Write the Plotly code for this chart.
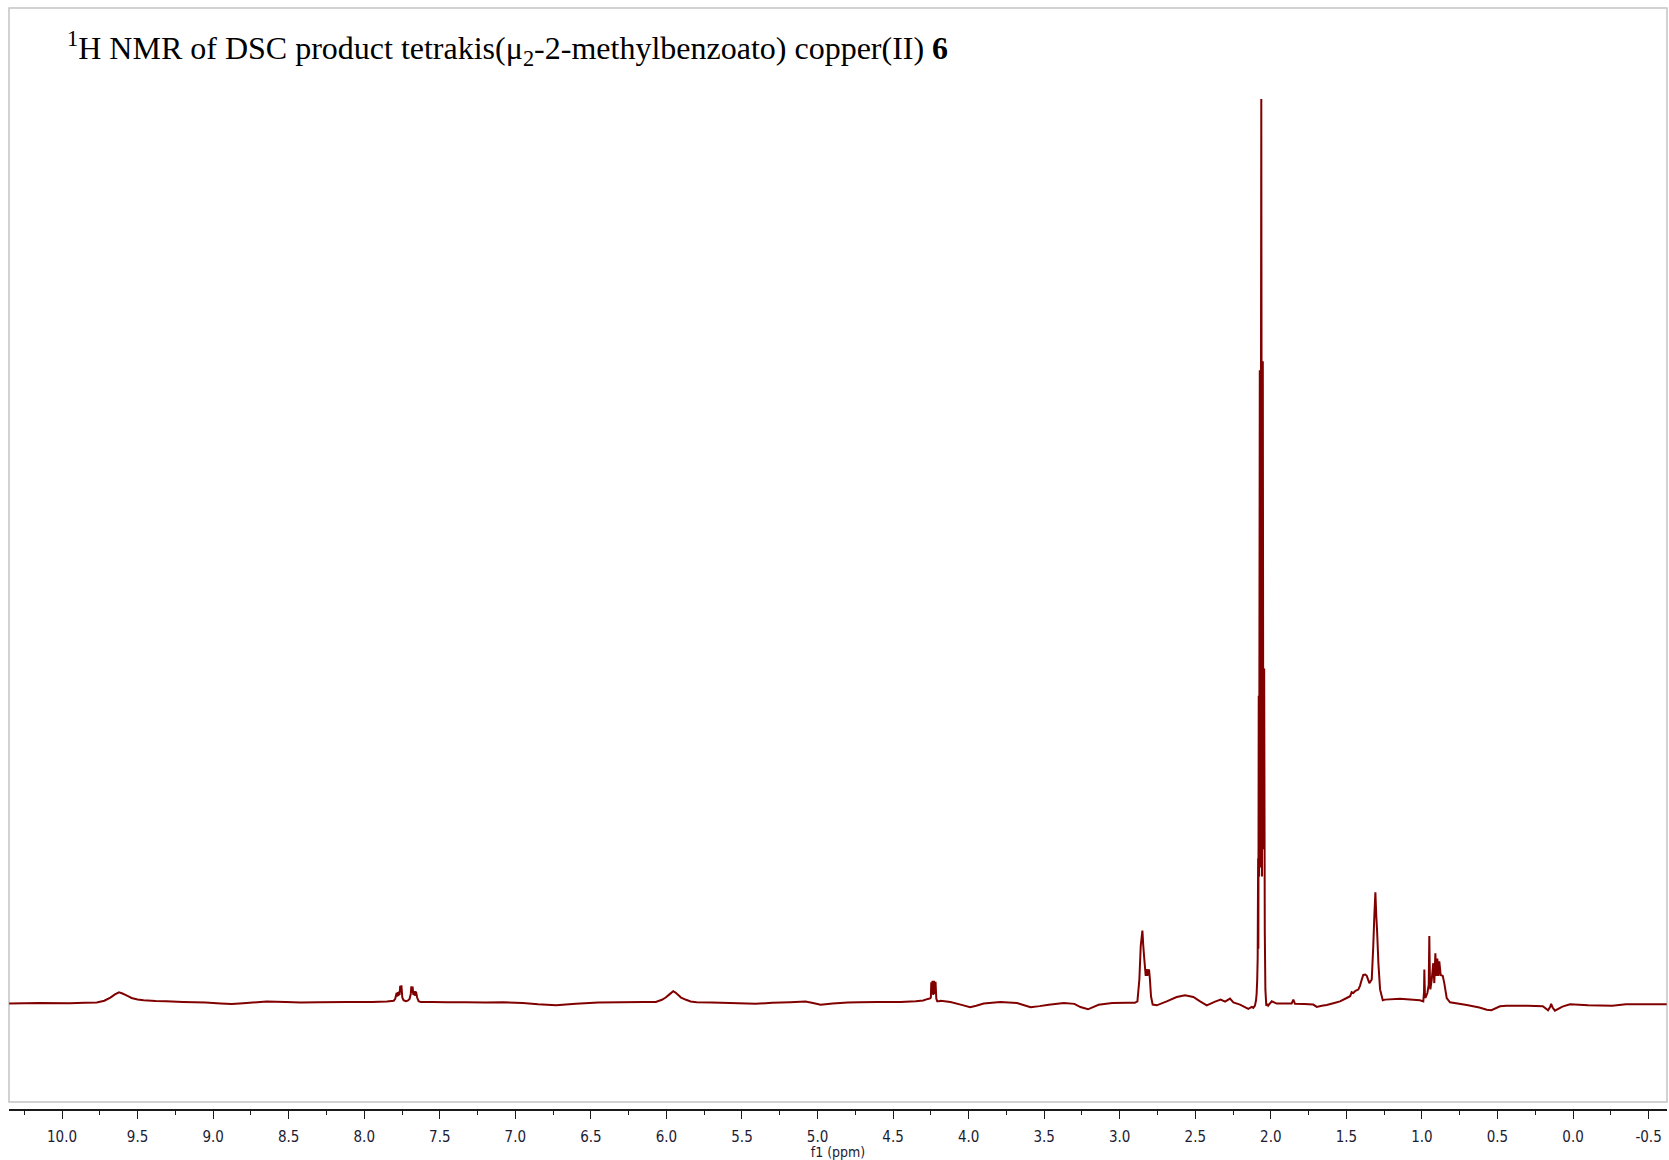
import plotly.graph_objects as go

# ---- spectrum trace (ppm, relative intensity) ----
ppm_a = [10.35, 10.15, 9.95, 9.85, 9.77, 9.72, 9.68, 9.65, 9.623, 9.60, 9.584, 9.56, 9.54, 9.50, 9.46,
         9.38, 9.31, 9.20, 9.05, 8.95, 8.877, 8.80, 8.645, 8.52, 8.42, 8.30, 8.116, 7.95, 7.85]
int_a = [-0.05, 0.0, -0.03, 0.02, 0.05, 0.25, 0.6, 0.95, 1.18, 1.05, 0.92, 0.72, 0.55, 0.38, 0.3,
         0.22, 0.18, 0.12, 0.05, -0.05, -0.12, -0.02, 0.15, 0.1, 0.05, 0.08, 0.1, 0.12, 0.15]

ppm_b = [7.805, 7.795, 7.786, 7.782, 7.778, 7.774, 7.770, 7.766, 7.762, 7.758, 7.754, 7.748, 7.740,
         7.725, 7.712, 7.700, 7.692, 7.688, 7.684, 7.680, 7.675, 7.670, 7.666, 7.662, 7.656, 7.650,
         7.640, 7.625]
int_b = [0.25, 0.45, 1.1, 0.7, 1.2, 0.8, 1.25, 0.9, 1.9, 1.2, 1.95, 0.6, 0.3,
         0.2, 0.25, 0.45, 1.0, 1.85, 1.1, 1.8, 0.9, 1.3, 0.8, 1.25, 1.15, 0.6,
         0.2, 0.1]

ppm_c = [7.55, 7.45, 7.33, 7.20, 7.08, 6.95, 6.85, 6.73, 6.60, 6.45, 6.30, 6.15, 6.07,
         6.03, 6.005, 5.98, 5.955, 5.94, 5.92, 5.903, 5.87, 5.84, 5.80, 5.70, 5.58, 5.41,
         5.30, 5.18, 5.08, 5.03, 4.98, 4.90, 4.80, 4.725, 4.60, 4.45, 4.35, 4.30, 4.27]
int_c = [0.1, 0.08, 0.08, 0.06, 0.08, 0.0, -0.15, -0.25, -0.1, 0.05, 0.08, 0.12, 0.1,
         0.35, 0.6, 0.95, 1.3, 1.15, 0.85, 0.6, 0.35, 0.17, 0.08, 0.05, 0.0, -0.1,
         0.02, 0.08, 0.15, 0.0, -0.2, -0.05, 0.05, 0.08, 0.1, 0.12, 0.2, 0.28, 0.45]

ppm_d = [4.255, 4.250, 4.247, 4.243, 4.239, 4.234, 4.229, 4.224, 4.219, 4.214, 4.208, 4.195, 4.185,
         4.12, 4.04, 3.99, 3.95, 3.90, 3.79, 3.68, 3.59, 3.53, 3.47, 3.37, 3.30, 3.26, 3.21,
         3.14, 3.05, 2.95, 2.90]
int_d = [0.5, 0.6, 2.3, 1.0, 2.45, 0.9, 2.45, 1.0, 2.35, 0.5, 0.2, 0.2, 0.24,
         0.1, -0.24, -0.47, -0.3, -0.05, 0.12, 0.0, -0.47, -0.35, -0.2, 0.0, -0.1, -0.45, -0.7,
         -0.2, 0.0, 0.02, 0.02]

ppm_e = [2.883, 2.870, 2.861, 2.850, 2.844, 2.837, 2.828, 2.821, 2.817, 2.813, 2.806, 2.800, 2.793,
         2.782, 2.755, 2.689, 2.623, 2.568, 2.513, 2.468, 2.424, 2.369, 2.332, 2.303, 2.27, 2.248,
         2.204, 2.149, 2.126, 2.116]
int_e = [0.18, 2.6, 6.3, 8.0, 6.3, 4.8, 3.0, 3.76, 3.0, 3.5, 3.7, 2.6, 0.74,
         -0.18, -0.26, 0.18, 0.66, 0.85, 0.66, 0.18, -0.26, 0.15, 0.37, 0.15, 0.48, 0.07,
         -0.18, -0.66, -0.44, -0.55]

ppm_f = [2.105, 2.098, 2.094, 2.090, 2.087, 2.084, 2.0825, 2.080, 2.0775, 2.073, 2.069, 2.063,
         2.0585, 2.053, 2.0495, 2.044, 2.040, 2.036, 2.030, 2.022]
int_f = [-0.3, 0.3, 1.0, 2.6, 5.0, 16.0, 6.0, 34.0, 14.0, 70.0, 15.0, 100.0,
         14.0, 71.0, 17.0, 37.0, 8.0, 1.5, -0.3, -0.1]

ppm_g = [2.017, 1.994, 1.961, 1.90, 1.862, 1.851, 1.840, 1.78, 1.719, 1.696, 1.663, 1.63, 1.58,
         1.542, 1.498, 1.475, 1.465, 1.454, 1.44, 1.421, 1.41, 1.398, 1.388, 1.375, 1.365, 1.348,
         1.332, 1.322, 1.315, 1.308, 1.302, 1.297, 1.288, 1.277, 1.259, 1.244, 1.145, 1.013, 0.991]
int_g = [-0.3, 0.18, -0.07, -0.05, -0.05, 0.37, -0.1, -0.12, -0.18, -0.44, -0.3, -0.22, 0.0,
         0.18, 0.55, 0.75, 1.2, 1.1, 1.35, 1.48, 1.9, 2.6, 3.1, 3.15, 3.0, 2.2,
         2.6, 6.3, 9.6, 12.25, 9.6, 8.1, 4.4, 1.5, 0.3, 0.37, 0.48, 0.3, 0.18]

ppm_h = [0.986, 0.984, 0.980, 0.977, 0.964, 0.955, 0.951, 0.947, 0.944, 0.935, 0.925, 0.918, 0.911,
         0.905, 0.898, 0.891, 0.885, 0.876, 0.862, 0.852, 0.836, 0.814, 0.703, 0.62, 0.571, 0.54,
         0.483, 0.44, 0.30, 0.20, 0.165, 0.150, 0.145, 0.135, 0.12, 0.07, 0.02, -0.10, -0.26,
         -0.35, -0.50, -0.62]
int_h = [1.2, 3.7, 0.8, 0.55, 1.1, 2.0, 7.4, 2.5, 1.5, 2.6, 4.4, 2.2, 5.5,
         3.0, 4.9, 3.0, 4.6, 3.1, 3.0, 2.2, 0.55, 0.07, -0.22, -0.5, -0.74, -0.8,
         -0.37, -0.3, -0.3, -0.35, -0.8, -0.4, -0.1, -0.5, -0.85, -0.4, -0.15, -0.25, -0.3,
         -0.15, -0.15, -0.15]

ppm = ppm_a + ppm_b + ppm_c + ppm_d + ppm_e + ppm_f + ppm_g + ppm_h
intensity = int_a + int_b + int_c + int_d + int_e + int_f + int_g + int_h

tick_vals = [10.0, 9.5, 9.0, 8.5, 8.0, 7.5, 7.0, 6.5, 6.0, 5.5, 5.0, 4.5, 4.0, 3.5, 3.0,
             2.5, 2.0, 1.5, 1.0, 0.5, 0.0, -0.5]
tick_text = ["10.0", "9.5", "9.0", "8.5", "8.0", "7.5", "7.0", "6.5", "6.0", "5.5", "5.0",
             "4.5", "4.0", "3.5", "3.0", "2.5", "2.0", "1.5", "1.0", "0.5", "0.0", "-0.5"]

title_text = ("<sup>1</sup>H NMR of DSC product tetrakis(\u03bc<sub>2</sub>-2-methylbenzoato) "
              "copper(II) <b>6</b>")
axis_title = "f1 (ppm)"

W, H = 1669, 1160
ML, MR, MT, MB = 9, 2, 8, 51
plot_h = H - MT - MB

fig = go.Figure()
fig.add_trace(go.Scatter(
    x=ppm, y=intensity, mode="lines",
    line=dict(color="#800000", width=2.0, simplify=False),
    hoverinfo="skip", showlegend=False))

fig.update_layout(
    width=W, height=H,
    margin=dict(l=ML, r=MR, t=MT, b=MB, pad=0),
    paper_bgcolor="white", plot_bgcolor="white",
    showlegend=False,
    xaxis=dict(
        range=[10.351, -0.622], autorange=False,
        showgrid=False, zeroline=False,
        showline=True, linecolor="#1a1a1a", linewidth=1.5,
        ticks="outside", ticklen=8, tickwidth=1.3, tickcolor="#1a1a1a",
        tickmode="array", tickvals=tick_vals, ticktext=tick_text,
        tickfont=dict(family="DejaVu Sans Condensed, DejaVu Sans", size=15, color="#1c1c34"),
        ticklabelstandoff=5,
        minor=dict(tickmode="linear", tick0=0, dtick=0.25, ticks="outside",
                   ticklen=4, tickwidth=1.3, tickcolor="#1a1a1a", showgrid=False),
        title=dict(text=axis_title, standoff=0,
                   font=dict(family="DejaVu Sans Condensed, DejaVu Sans", size=14, color="#1c1c34")),
    ),
    yaxis=dict(range=[-11.73, 110.07], autorange=False, visible=False),
    shapes=[dict(type="rect", xref="paper", yref="paper",
                 x0=0, x1=1, y0=(1109 - 1102) / plot_h, y1=1,
                 line=dict(color="#c4c4c4", width=1.5), fillcolor="rgba(0,0,0,0)", layer="below")],
    annotations=[dict(text=title_text, xref="paper", yref="paper",
                      x=(65 - ML) / (W - ML - MR), y=(H - MB - 49) / plot_h,
                      xanchor="left", yanchor="middle", showarrow=False,
                      font=dict(family="Liberation Serif, Times New Roman, serif", size=32, color="black"))],
)

fig.write_html("out.html")
